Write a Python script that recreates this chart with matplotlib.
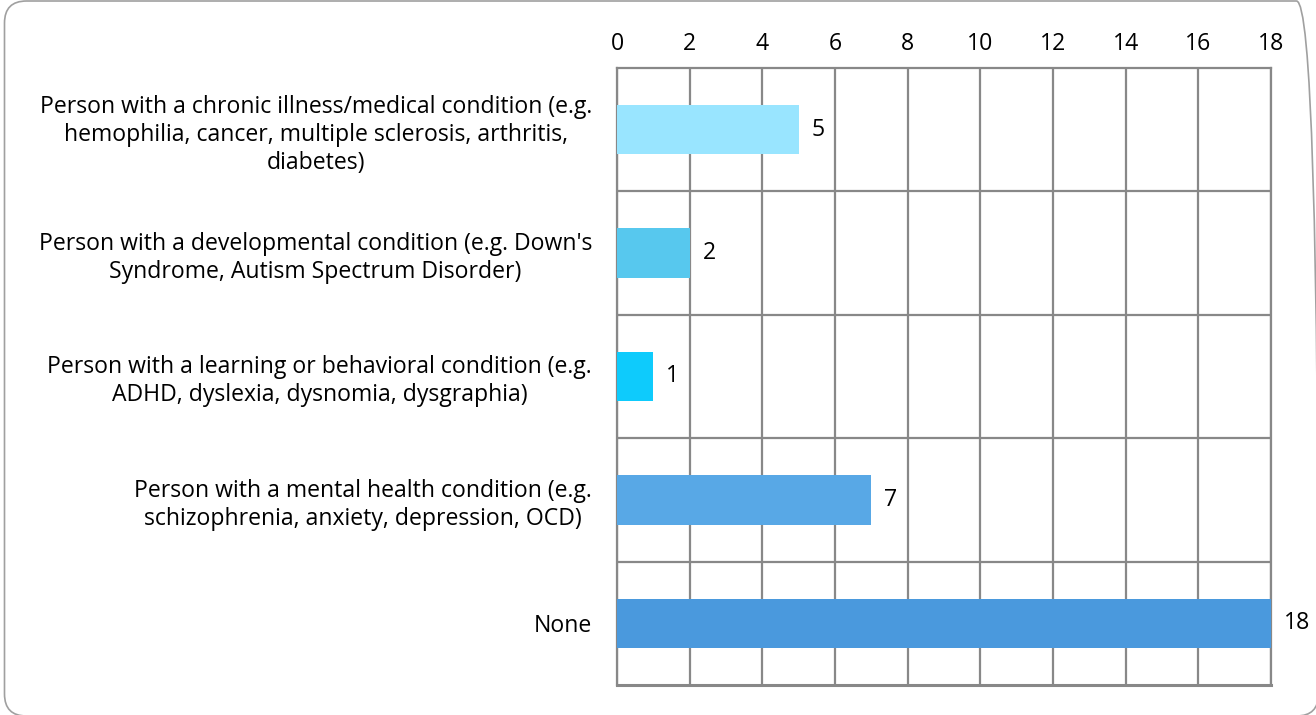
import matplotlib
matplotlib.use("Agg")
import matplotlib.pyplot as plt
from matplotlib.patches import FancyBboxPatch
from matplotlib.transforms import IdentityTransform

# dane
categories = [
    "Person with a chronic illness/medical condition (e.g.\nhemophilia, cancer, multiple sclerosis, arthritis,\ndiabetes)",
    "Person with a developmental condition (e.g. Down's\nSyndrome, Autism Spectrum Disorder)",
    "Person with a learning or behavioral condition (e.g.\nADHD, dyslexia, dysnomia, dysgraphia)",
    "Person with a mental health condition (e.g.\nschizophrenia, anxiety, depression, OCD)",
    "None",
]
values = [5, 2, 1, 7, 18]
colors = ["#99E5FF", "#57C8EE", "#0ECBFC", "#58A8E6", "#4A99DD"]
x_ticks = list(range(0, 19, 2))

plt.rcParams['font.family'] = ['Open Sans', 'DejaVu Sans']
FS = 16.6

fig = plt.figure(figsize=(13.16, 7.15), dpi=100)
ax = fig.add_axes([617 / 1316, 1 - 685 / 715, (1271 - 617) / 1316, (685 - 68) / 715])

y = list(range(len(categories)))
ax.barh(y, values, height=0.4, color=colors, zorder=3)
for yi, v in zip(y, values):
    ax.text(v + 0.36, yi, str(v), va='center', ha='left', fontsize=FS, color='black')

ax.set_xlim(0, 18)
ax.set_ylim(len(categories) - 0.5, -0.5)
ax.set_xticks(x_ticks)
ax.xaxis.tick_top()
ax.tick_params(axis='x', length=0, pad=9, labelsize=FS)
ax.set_yticks(y)
ax.set_yticklabels(categories, multialignment='center', linespacing=1.22)
ax.tick_params(axis='y', length=0, pad=18, labelsize=FS)

# siatka
ax.set_yticks([i + 0.5 for i in range(len(categories) - 1)], minor=True)
ax.tick_params(axis='y', which='minor', length=0)
ax.grid(axis='x', color='#888888', linewidth=1.6, zorder=0)
ax.grid(axis='y', which='minor', color='#888888', linewidth=1.6, zorder=0)
for s in ax.spines.values():
    s.set_color('#888888')
    s.set_linewidth(1.6)
ax.spines['bottom'].set_linewidth(2.2)

# ramka (w pikselach)
frame = FancyBboxPatch((4.5, -1), 1314, 715,
                       boxstyle="round,pad=0,rounding_size=22",
                       transform=IdentityTransform(), fill=False,
                       edgecolor='#A0A0A0', linewidth=1.2)
fig.patches.append(frame)

fig.savefig("out.png", dpi=100)
